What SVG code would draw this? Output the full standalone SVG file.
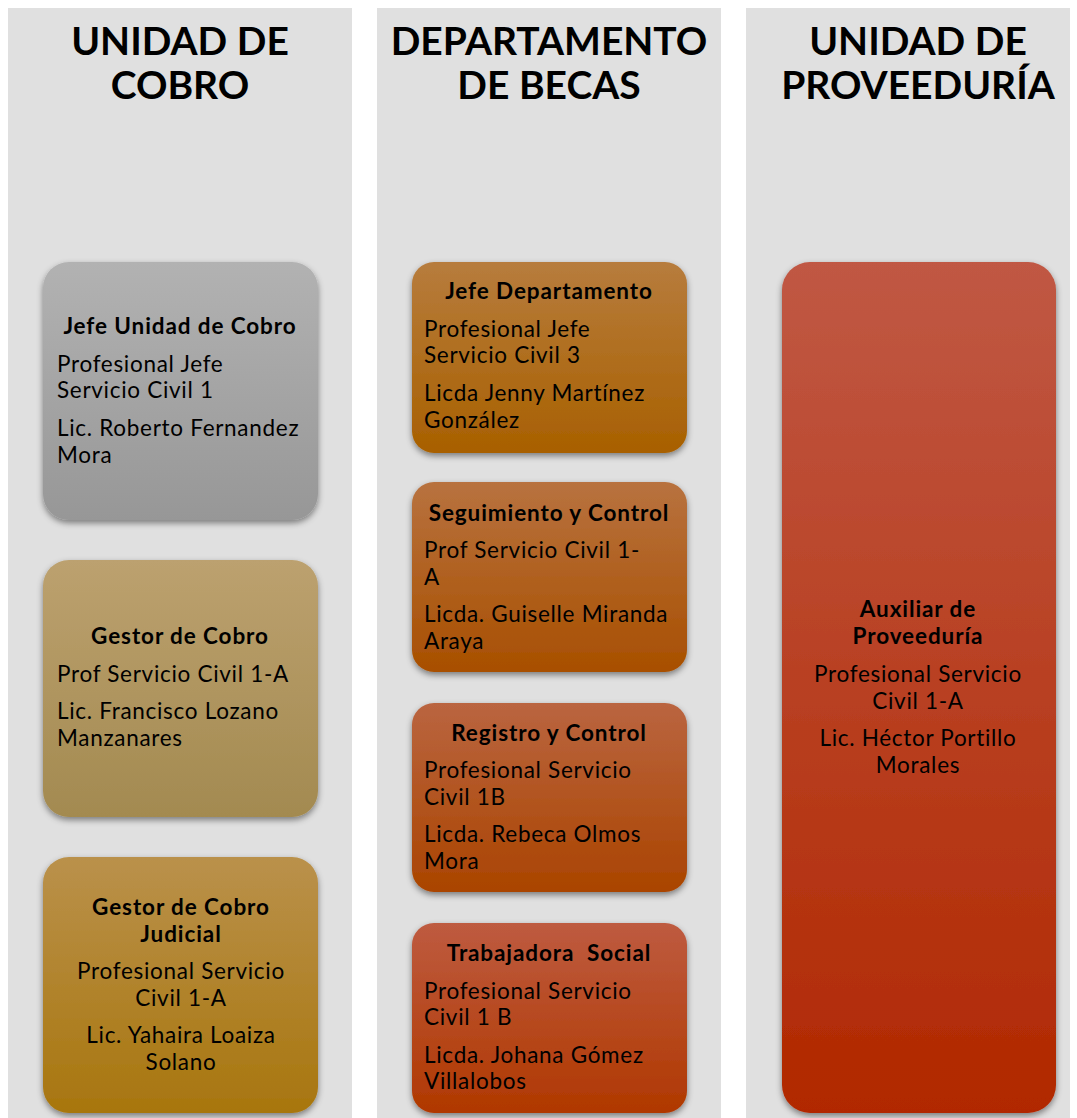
<svg xmlns="http://www.w3.org/2000/svg" width="1077" height="1118" viewBox="0 0 1077 1118">
<style>
.col{fill:#e0e0e0}
.hd{font-family:Lato,"Open Sans",sans-serif;font-weight:bold;font-size:39px;fill:#000;text-anchor:middle}
.t{font-family:Lato,"Open Sans",sans-serif;font-weight:bold;font-size:22.5px;letter-spacing:0.9px;fill:#000}
.b{font-family:Lato,"Open Sans",sans-serif;font-size:22.5px;letter-spacing:0.7px;fill:#000}
.c{text-anchor:middle}
.box{filter:url(#sh)}
</style>
<defs>
<filter id="sh" x="-10%" y="-10%" width="120%" height="125%">
<feDropShadow dx="0" dy="3" stdDeviation="3" flood-color="#000" flood-opacity="0.45"/>
</filter>
<linearGradient id="g1" x1="0" y1="0" x2="0" y2="1"><stop offset="0" stop-color="#b2b2b2"/><stop offset="1" stop-color="#979797"/></linearGradient>
<linearGradient id="g2" x1="0" y1="0" x2="0" y2="1"><stop offset="0" stop-color="#bca16f"/><stop offset="1" stop-color="#a38a50"/></linearGradient>
<linearGradient id="g3" x1="0" y1="0" x2="0" y2="1"><stop offset="0" stop-color="#ba914b"/><stop offset="1" stop-color="#a8760e"/></linearGradient>
<linearGradient id="g4" x1="0" y1="0" x2="0" y2="1"><stop offset="0" stop-color="#b77c3d"/><stop offset="1" stop-color="#a86000"/></linearGradient>
<linearGradient id="g5" x1="0" y1="0" x2="0" y2="1"><stop offset="0" stop-color="#b8723f"/><stop offset="1" stop-color="#a84f00"/></linearGradient>
<linearGradient id="g6" x1="0" y1="0" x2="0" y2="1"><stop offset="0" stop-color="#ba6540"/><stop offset="1" stop-color="#aa4400"/></linearGradient>
<linearGradient id="g7" x1="0" y1="0" x2="0" y2="1"><stop offset="0" stop-color="#be5b40"/><stop offset="1" stop-color="#b03800"/></linearGradient>
<linearGradient id="g8" x1="0" y1="0" x2="0" y2="1"><stop offset="0" stop-color="#c05844"/><stop offset="1" stop-color="#b12800"/></linearGradient>
</defs>
<rect width="1077" height="1118" fill="#fff"/>
<g id="columns">
<rect class="col" x="8" y="8" width="344" height="1110"/>
<rect class="col" x="377" y="8" width="344" height="1110"/>
<rect class="col" x="746" y="8" width="324" height="1110"/>
</g>
<g id="headers">
<text class="hd" x="180" y="55">UNIDAD DE</text>
<text class="hd" x="180" y="99">COBRO</text>
<text class="hd" x="549" y="55">DEPARTAMENTO</text>
<text class="hd" x="549" y="99">DE BECAS</text>
<text class="hd" x="918" y="55">UNIDAD DE</text>
<text class="hd" x="918" y="99">PROVEEDURÍA</text>
</g>
<g id="connectors"/>
<g id="jefe-cobro">
<rect class="box" x="43" y="262" width="275" height="258" rx="26" fill="url(#g1)"/>
<text class="t c" x="180" y="334">Jefe Unidad de Cobro</text>
<text class="b" x="57" y="372">Profesional Jefe</text>
<text class="b" x="57" y="398">Servicio Civil 1</text>
<text class="b" x="57" y="436">Lic. Roberto Fernandez</text>
<text class="b" x="57" y="463">Mora</text>
</g>
<g id="gestor-cobro">
<rect class="box" x="43" y="560" width="275" height="257" rx="26" fill="url(#g2)"/>
<text class="t c" x="180" y="644">Gestor de Cobro</text>
<text class="b" x="57" y="682">Prof Servicio Civil 1-A</text>
<text class="b" x="57" y="719">Lic. Francisco Lozano</text>
<text class="b" x="57" y="746">Manzanares</text>
</g>
<g id="gestor-judicial">
<rect class="box" x="43" y="857" width="275" height="256" rx="26" fill="url(#g3)"/>
<text class="t c" x="181" y="915">Gestor de Cobro</text>
<text class="t c" x="181" y="942">Judicial</text>
<text class="b c" x="181" y="979">Profesional Servicio</text>
<text class="b c" x="181" y="1006">Civil 1-A</text>
<text class="b c" x="181" y="1043">Lic. Yahaira Loaiza</text>
<text class="b c" x="181" y="1070">Solano</text>
</g>
<g id="jefe-departamento">
<rect class="box" x="412" y="262" width="275" height="191" rx="22" fill="url(#g4)"/>
<text class="t c" x="549" y="299">Jefe Departamento</text>
<text class="b" x="424" y="337">Profesional Jefe</text>
<text class="b" x="424" y="363">Servicio Civil 3</text>
<text class="b" x="424" y="401">Licda Jenny Martínez</text>
<text class="b" x="424" y="428">González</text>
</g>
<g id="seguimiento">
<rect class="box" x="412" y="482" width="275" height="190" rx="22" fill="url(#g5)"/>
<text class="t c" x="549" y="521">Seguimiento y Control</text>
<text class="b" x="424" y="558">Prof Servicio Civil 1-</text>
<text class="b" x="424" y="585">A</text>
<text class="b" x="424" y="622">Licda. Guiselle Miranda</text>
<text class="b" x="424" y="649">Araya</text>
</g>
<g id="registro">
<rect class="box" x="412" y="703" width="275" height="189" rx="22" fill="url(#g6)"/>
<text class="t c" x="549" y="741">Registro y Control</text>
<text class="b" x="424" y="778">Profesional Servicio</text>
<text class="b" x="424" y="805">Civil 1B</text>
<text class="b" x="424" y="842">Licda. Rebeca Olmos</text>
<text class="b" x="424" y="869">Mora</text>
</g>
<g id="trabajadora">
<rect class="box" x="412" y="923" width="275" height="190" rx="22" fill="url(#g7)"/>
<text class="t c" x="549" y="961">Trabajadora&#160; Social</text>
<text class="b" x="424" y="999">Profesional Servicio</text>
<text class="b" x="424" y="1025">Civil 1 B</text>
<text class="b" x="424" y="1063">Licda. Johana Gómez</text>
<text class="b" x="424" y="1089">Villalobos</text>
</g>
<g id="auxiliar">
<rect class="box" x="782" y="262" width="274" height="851" rx="28" fill="url(#g8)"/>
<text class="t c" x="918" y="617">Auxiliar de</text>
<text class="t c" x="918" y="644">Proveeduría</text>
<text class="b c" x="918" y="682">Profesional Servicio</text>
<text class="b c" x="918" y="709">Civil 1-A</text>
<text class="b c" x="918" y="746">Lic. Héctor Portillo</text>
<text class="b c" x="918" y="773">Morales</text>
</g>
</svg>
